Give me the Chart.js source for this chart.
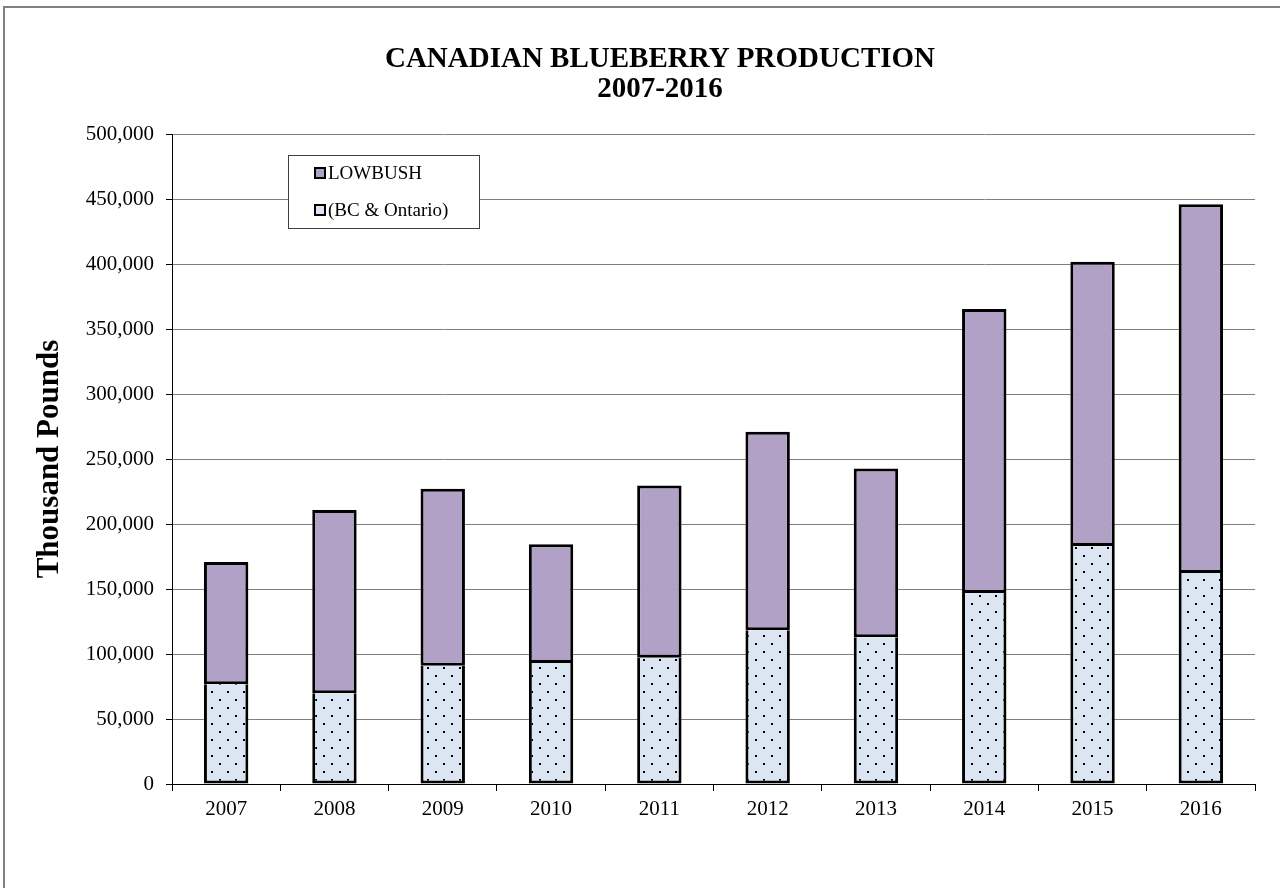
<!DOCTYPE html>
<html>
<head>
<meta charset="utf-8">
<script src="https://cdn.jsdelivr.net/npm/chart.js@4/dist/chart.umd.min.js"></script>
<style>
  html, body { margin: 0; padding: 0; background: #fff; }
  #wrap { width: 1280px; height: 888px; position: relative; }
</style>
</head>
<body>
<div id="wrap"><canvas id="c" width="1280" height="888"></canvas></div>
<script>
const years = ['2007','2008','2009','2010','2011','2012','2013','2014','2015','2016'];
const bcOntario = [76700, 69800, 91000, 93000, 97200, 118200, 112800, 146900, 183000, 162300];
const lowbush = [94100, 141000, 136200, 91400, 132500, 152800, 129800, 218500, 218800, 283600];
const titleLines = ['CANADIAN BLUEBERRY PRODUCTION', '2007-2016'];
const yTitle = 'Thousand Pounds';
const labelLow = 'LOWBUSH';
const labelBC = '(BC & Ontario)';

function makeDotPattern() {
  const t = document.createElement('canvas');
  t.width = 16; t.height = 16;
  const g = t.getContext('2d');
  g.fillStyle = '#dce6f2';
  g.fillRect(0, 0, 16, 16);
  g.fillStyle = '#000';
  g.fillRect(3, 3, 2, 2);
  g.fillRect(11, 11, 2, 2);
  return g.createPattern(t, 'repeat');
}

const ctx = document.getElementById('c').getContext('2d');
const dotPattern = makeDotPattern();

const decorPlugin = {
  id: 'decor',
  beforeDraw(chart) {
    const c = chart.ctx;
    c.save();
    c.fillStyle = '#fff';
    c.fillRect(0, 0, chart.width, chart.height);
    c.fillStyle = '#808080';
    c.fillRect(3, 6, chart.width - 3, 2);
    c.fillRect(3, 6, 2, chart.height - 6);
    c.restore();
  },
  afterDraw(chart) {
    const c = chart.ctx;
    c.save();
    c.fillStyle = '#000';
    c.textAlign = 'center';
    c.textBaseline = 'alphabetic';
    c.font = 'bold 29px "Liberation Serif", "Times New Roman", serif';
    c.fillText(titleLines[0], 660, 67);
    c.fillText(titleLines[1], 660, 97);
    c.save();
    c.translate(50, 459);
    c.rotate(-Math.PI / 2);
    c.font = 'bold 31px "Liberation Serif", "Times New Roman", serif';
    c.textBaseline = 'middle';
    c.fillText(yTitle, 0, 0);
    c.restore();
    c.fillStyle = '#fff';
    c.fillRect(288, 155, 191, 73);
    c.strokeStyle = '#404040';
    c.lineWidth = 1;
    c.strokeRect(288.5, 155.5, 191, 73);
    const items = chart.data.datasets.slice().reverse();
    const ys = [173, 210];
    c.font = '19px "Liberation Serif", "Times New Roman", serif';
    c.textAlign = 'left';
    c.textBaseline = 'middle';
    items.forEach((ds, i) => {
      const y = ys[i];
      c.fillStyle = ds.legendColor;
      c.fillRect(315, y - 5, 10, 10);
      c.strokeStyle = '#000';
      c.lineWidth = 2;
      c.strokeRect(315, y - 5, 10, 10);
      c.fillStyle = '#000';
      c.fillText(ds.label, 328, y + 1);
    });
    c.restore();
  }
};

new Chart(ctx, {
  type: 'bar',
  data: {
    labels: years,
    datasets: [
      {
        label: labelBC,
        data: bcOntario,
        backgroundColor: dotPattern,
        legendColor: '#dce6f2',
        borderColor: '#000',
        borderWidth: 3,
        borderSkipped: 'top',
        categoryPercentage: 1,
        barPercentage: 0.41
      },
      {
        label: labelLow,
        data: lowbush,
        backgroundColor: '#b2a1c7',
        legendColor: '#b2a1c7',
        borderColor: '#000',
        borderWidth: 3,
        borderSkipped: false,
        categoryPercentage: 1,
        barPercentage: 0.41
      }
    ]
  },
  options: {
    responsive: false,
    animation: false,
    devicePixelRatio: 1,
    layout: { padding: { left: 0, right: 25, top: 134, bottom: 64 } },
    plugins: {
      legend: { display: false },
      title: { display: false },
      tooltip: { enabled: false }
    },
    scales: {
      x: {
        stacked: true,
        offset: true,
        grid: { display: true, drawOnChartArea: false, drawTicks: true, tickLength: 7, tickColor: '#000', offset: true },
        border: { display: true, color: '#000', width: 1 },
        ticks: { color: '#000', padding: 6, font: { family: '"Liberation Serif", "Times New Roman", serif', size: 21 }, maxRotation: 0 },
        afterFit(scale) { scale.height = 40; }
      },
      y: {
        stacked: true,
        min: 0,
        max: 500000,
        ticks: {
          stepSize: 50000,
          color: '#000',
          padding: 12,
          font: { family: '"Liberation Serif", "Times New Roman", serif', size: 21 },
          callback: (v) => v.toLocaleString('en-US')
        },
        grid: { color: '#808080', lineWidth: 1, tickColor: '#000', tickLength: 6, drawTicks: true },
        border: { display: true, color: '#000', width: 1 },
        afterFit(scale) { scale.width = 172; }
      }
    }
  },
  plugins: [decorPlugin]
});
</script>
</body>
</html>
